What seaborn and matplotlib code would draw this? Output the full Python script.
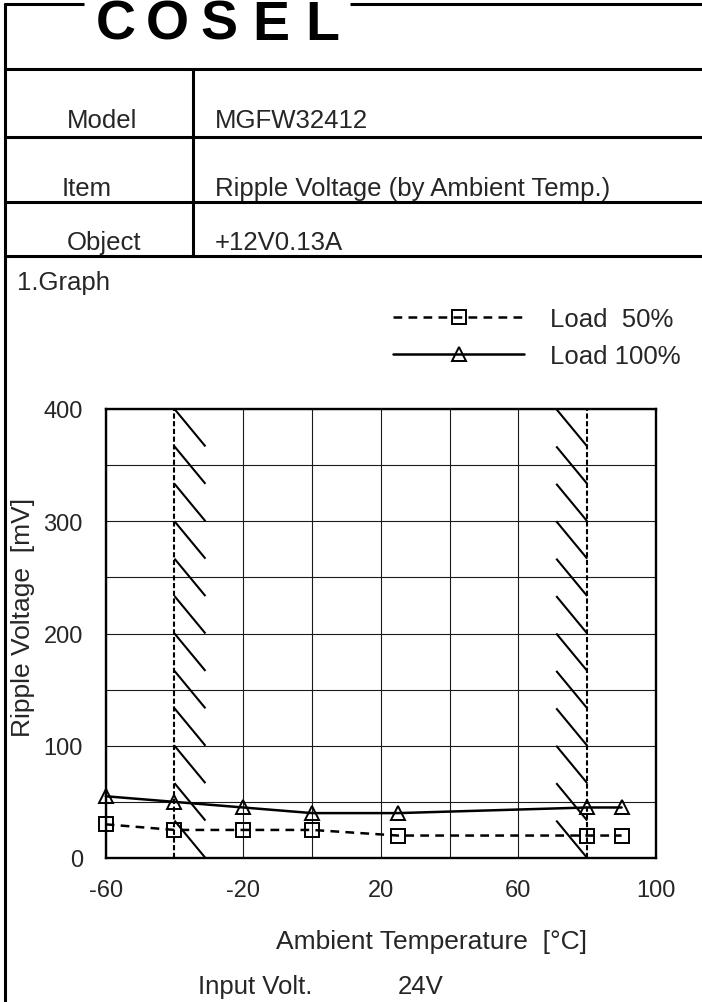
import numpy as np
import pandas as pd
import matplotlib
matplotlib.use("Agg")
import matplotlib.pyplot as plt
from matplotlib.lines import Line2D
import seaborn as sns

# ---------------- data ----------------
temps = [-60, -40, -20, 0, 25, 80, 90]
load50 = [30, 25, 25, 25, 20, 20, 20]
load100 = [55, 50, 45, 40, 40, 45, 45]
series_labels = ["Load  50%", "Load 100%"]
x_ticks = [-60, -20, 20, 60, 100]
y_ticks = [0, 100, 200, 300, 400]
temp_limits = [-40, 80]
table_labels = ["Model", "Item", "Object"]
table_values = ["MGFW32412", "Ripple Voltage (by Ambient Temp.)", "+12V0.13A"]
logo_letters = ["C", "O", "S", "E", "L"]

sns.set_style("white")
plt.rcParams["font.family"] = ["Liberation Sans", "DejaVu Sans"]
plt.rcParams["axes.unicode_minus"] = False

W, H = 702, 1003
fig = plt.figure(figsize=(W / 100, H / 100), dpi=100)
fig.patch.set_facecolor("white")


def fx(px):
    return px / W


def fy(py):
    return 1 - py / H


# ---------------- page frame / header table ----------------
frame_lw = 2.2
def hline(y, x0, x1, lw=frame_lw):
    fig.add_artist(Line2D([fx(x0), fx(x1)], [fy(y), fy(y)], color="black", lw=lw,
                          solid_capstyle="butt"))


def vline(x, y0, y1, lw=frame_lw):
    fig.add_artist(Line2D([fx(x), fx(x)], [fy(y0), fy(y1)], color="black", lw=lw,
                          solid_capstyle="butt"))


hline(5, 4, 84)
hline(5, 350, 702)
vline(5, 4, 1003)
for yy in [70, 138, 203, 257]:
    hline(yy, 5, 702)
vline(193, 70, 257)

# logo (letters spread over the gap in the top line)
for k, ch in enumerate(logo_letters):
    fig.text(fx(116 + 51.5 * k), fy(40), ch, fontsize=40, fontweight="heavy",
             color="black", ha="center", va="baseline")

FS = 18.5
label_x = [67, 62, 67]
row_base = [128, 196, 250]
for lab, val, lx, yb in zip(table_labels, table_values, label_x, row_base):
    fig.text(fx(lx), fy(yb), lab, fontsize=FS, ha="left", va="baseline")
    fig.text(fx(215), fy(yb), val, fontsize=FS, ha="left", va="baseline")

fig.text(fx(17), fy(290), "1.Graph", fontsize=FS, ha="left", va="baseline")

# ---------------- chart ----------------
ax = fig.add_axes([fx(105.7), fy(859), fx(656) - fx(105.7), (859 - 410) / H])

df = pd.DataFrame({
    "temp": temps + temps,
    "ripple": load50 + load100,
    "load": [series_labels[0]] * len(temps) + [series_labels[1]] * len(temps),
})

styles = {
    series_labels[0]: dict(marker="s", markersize=10, linestyle=(0, (3.5, 2.5))),
    series_labels[1]: dict(marker="^", markersize=10, linestyle="-"),
}
for lab in series_labels:
    sns.lineplot(data=df[df["load"] == lab], x="temp", y="ripple", ax=ax,
                 color="black", linewidth=1.8, markerfacecolor="none",
                 markeredgecolor="black", markeredgewidth=1.4,
                 estimator=None, label=lab, legend=False, zorder=5,
                 clip_on=False, **styles[lab])

ax.set_xlim(-60, 100)
ax.set_ylim(0, 400)
ax.set_xticks(x_ticks)
ax.set_xticks([0, 40], minor=True)
ax.set_yticks(y_ticks)
ax.set_yticks([50, 150, 250, 350], minor=True)
ax.grid(which="both", color="#1a1a1a", linewidth=0.8)
ax.tick_params(which="both", length=0, labelsize=17)
ax.tick_params(axis="y", pad=16.5)
ax.tick_params(axis="x", pad=15)
ax.set_xlabel("")
ax.set_ylabel("")
for sp in ax.spines.values():
    sp.set_visible(True)
    sp.set_color("black")
    sp.set_linewidth(1.7)

# operating-limit lines with hatch marks
hatch_w = 9
n_hatch = 12
hh = 400 / n_hatch
for i, t in enumerate(temp_limits):
    ax.axvline(t, color="black", lw=1.5, linestyle=(0, (2.5, 1.2)), zorder=3)
    x0 = t if i == 0 else t - hatch_w
    for k in range(n_hatch):
        ytop = 400 - k * hh
        ax.plot([x0, x0 + hatch_w], [ytop, ytop - hh], color="black", lw=1.5,
                zorder=3, solid_capstyle="butt")

# legend
handles = ax.lines[:2]
leg = fig.legend(handles, series_labels, loc="upper left",
                 bbox_to_anchor=(fx(393), fy(308)), frameon=False, fontsize=FS,
                 handlelength=5.1, handletextpad=1.0, labelspacing=0.52,
                 borderpad=0, borderaxespad=0)

# axis titles and notes
fig.text(fx(23), fy(617), "Ripple Voltage  [mV]", fontsize=19, rotation=90,
         ha="center", va="center")
fig.text(fx(431), fy(942), "Ambient Temperature  [°C]", fontsize=19,
         ha="center", va="center")
fig.text(fx(198), fy(987), "Input Volt.", fontsize=FS, ha="left", va="center")
fig.text(fx(398), fy(987), "24V", fontsize=FS, ha="left", va="center")

fig.savefig("out.png", dpi=100, facecolor="white")
